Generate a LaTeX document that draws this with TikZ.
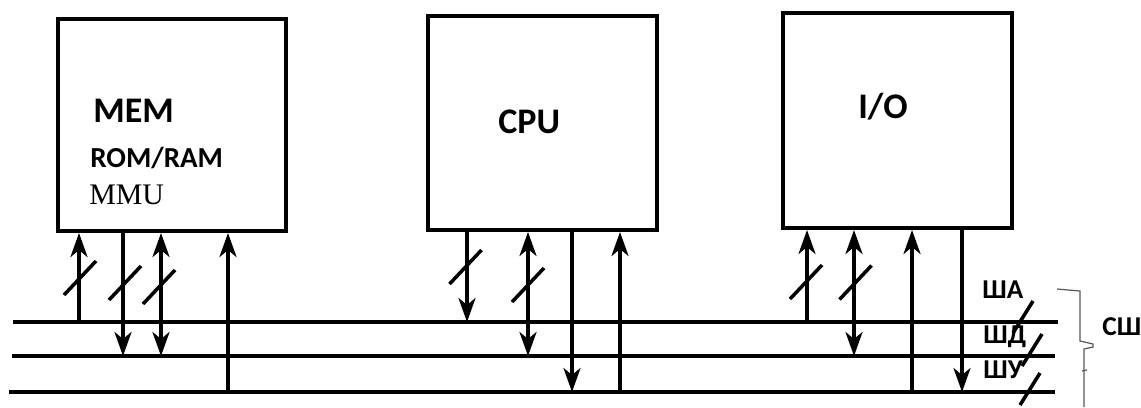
\documentclass[tikz,border=0pt]{standalone}
\usepackage{fontspec}
\setmainfont{Carlito}
\newfontfamily\mmufont{Liberation Serif}
\usetikzlibrary{arrows.meta}

\begin{document}
\begin{tikzpicture}[x=0.02cm, y=-0.02cm, blk/.style={draw, line width=2.3pt, inner sep=0pt}, bus/.style={line width=2pt}, link/.style={line width=2pt}, tofrom/.style={link, {Stealth[length=0.48cm, width=0.34cm, inset=0.14cm]}-{Stealth[length=0.48cm, width=0.34cm, inset=0.14cm]}}, into/.style={link, {Stealth[length=0.48cm, width=0.34cm, inset=0.14cm]}-}, outof/.style={link, -{Stealth[length=0.48cm, width=0.34cm, inset=0.14cm]}}, big/.style={anchor=base west, inner sep=0pt, font=\bfseries\fontsize{20.5}{20.5}\selectfont}, lbl/.style={anchor=base west, inner sep=0pt, font=\bfseries\fontsize{15.5}{15.5}\selectfont}]
	\useasboundingbox (0,0) rectangle (1141,407);
	\node[blk, minimum width=4.56cm, minimum height=4.24cm] (mem) at (172,125) {};
	\node[blk, minimum width=4.58cm, minimum height=4.28cm] (cpu) at (542.5,123) {};
	\node[blk, minimum width=4.58cm, minimum height=4.3cm] (io) at (897.5,120.5) {};
	\node[big] (memtxt) at (93,122) {MEM};
	\node[anchor=base west, inner sep=0pt, font=\bfseries\fontsize{16.5}{16.5}\selectfont] (romram) at (90,167) {ROM/RAM};
	\node[anchor=base west, inner sep=0pt, font=\mmufont\fontsize{17}{17}\selectfont] (mmu) at (89,204) {MMU};
	\node[big] (cputxt) at (498,133) {CPU};
	\node[big] (iotxt) at (858,118) {I/O};
	\coordinate (sa0) at (13,322);
	\coordinate (sa1) at (1058,322);
	\coordinate (sd0) at (12,356);
	\coordinate (sd1) at (1055,356);
	\coordinate (su0) at (9,392);
	\coordinate (su1) at (1055,392);
	\draw[bus] (sa0) -- (sa1);
	\draw[bus] (sd0) -- (sd1);
	\draw[bus] (su0) -- (su1);
	\foreach \x/\n/\b/\t in {79/mem/sa0/into, 123/mem/sd0/outof, 161/mem/sd0/tofrom, 228/mem/su0/into, 467/cpu/sa0/outof, 528/cpu/sd0/tofrom, 572/cpu/su0/outof, 620/cpu/su0/into, 807/io/sa0/into, 854/io/sd0/tofrom, 912/io/su0/into, 962/io/su0/outof}
		\draw[\t] (\x,0 |- \n.south) -- (\x,0 |- \b);
	\foreach \x/\y in {80/278, 125/283, 159/287, 465.5/267, 528/285, 806/282, 855.5/282.5}
		\draw[link] (\x,\y) +(-16,17) -- +(16,-17);
	\foreach \x/\y in {1023/317, 1032/350, 1030/389}
		\draw[link] (\x,\y) +(-10,16) -- +(10,-16);
	\node[lbl] (la) at (982,298) {ША};
	\node[lbl] (ld) at (983,343) {ШД};
	\node[lbl] (lu) at (983,378) {ШУ};
	\node[lbl] (sys) at (1102,335) {СШ};
	\draw[gray!70!black, line width=0.7pt] (1057,289) -- (1080,291) -- (1080,341) -- (1093,344) -- (1093,347) -- (1084,349) -- (1084,407);
	\draw[gray!70!black, line width=0.7pt] (1082,371) -- (1087,370);
\end{tikzpicture}
\end{document}
